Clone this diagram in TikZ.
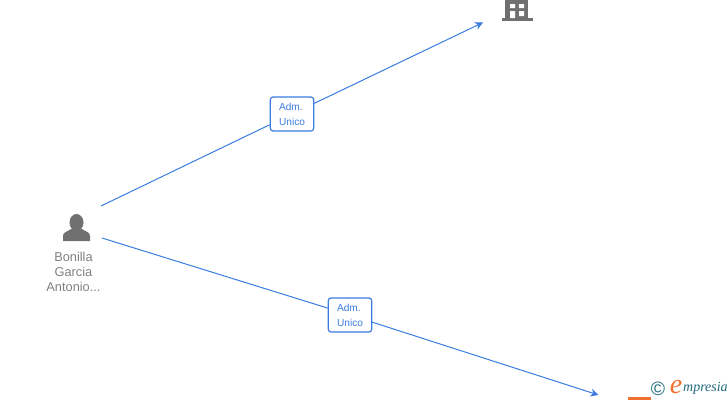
\documentclass[tikz,border=0pt]{standalone}
\usepackage{xcolor}
\usepackage{fontspec}
\setmainfont{Liberation Sans}
\newfontfamily\logofont{Liberation Serif}
\usetikzlibrary{arrows.meta, positioning, calc}
\definecolor{emblue}{RGB}{58,124,224}
\definecolor{emgrey}{RGB}{112,112,112}
\definecolor{emtext}{RGB}{128,128,128}
\definecolor{emorange}{RGB}{240,112,48}
\definecolor{emteal}{RGB}{30,105,125}

\begin{document}
\begin{tikzpicture}[x=0.75pt, y=-0.75pt,
  rel/.style={rectangle, rounded corners=2pt, draw=emblue, line width=0.9pt, fill=white, text=emblue, minimum width=32.5pt, minimum height=25.5pt, inner sep=0pt, align=left, text depth=-1.2pt, font=\fontsize{7.6}{11.2}\selectfont},
  holder/.style={text=emtext, align=center, inner sep=0pt, font=\fontsize{9.6}{11.2}\selectfont},
  conn/.style={draw=emblue, line width=0.75pt},
  arr/.style={conn, -{Stealth[length=6pt, width=6pt]}}
]
\useasboundingbox (0,0) rectangle (728,400);
% person icon
\fill[emgrey] (63,241) -- (63,236) .. controls (63,232) and (67,232) .. (71,229) -- (82,229) .. controls (86,232) and (90,232) .. (90,236) -- (90,241) -- cycle;
\fill[emgrey] (76.5,222.5) ellipse (7 and 8.5);
\node[holder] (person) at (73.5,271.5) {Bonilla\\Garcia\\Antonio...};
% building icon
\fill[emgrey] (505,-4) rectangle (528,19);
\fill[emgrey] (502,18) rectangle (533,21);
\fill[white] (510,4) rectangle (515,8) (519,4) rectangle (524,8);
\fill[white] (510,11) rectangle (515,18) (519,11) rectangle (524,16);
% orange box of the cut off node
\fill[emorange] (628,397) rectangle (651,400);
% relation labels
\node[rel] (adm1) at (292,114) {Adm.\\Unico};
\node[rel] (adm2) at (350,315) {Adm.\\Unico};
\coordinate (from1) at (101,206);
\coordinate (to1) at (483,22.5);
\coordinate (from2) at (102,238);
\coordinate (to2) at (598.5,395);
\draw[conn] (from1) -- (adm1);
\draw[arr] (adm1) -- (to1);
\draw[conn] (from2) -- (adm2);
\draw[arr] (adm2) -- (to2);
% logo
\node[text=emteal, inner sep=0pt, font=\fontsize{14.5}{15}\selectfont] (copy) at (658,388.5) {©};
\node[text=emorange, inner sep=0pt, font=\logofont\itshape\fontsize{21}{22}\selectfont] (logoe) at (676,387.5) {e};
\node[right=0.3pt of logoe, yshift=-1pt, text=emteal, inner sep=0pt, font=\logofont\itshape\fontsize{10.5}{12}\selectfont] (logo) {mpresia};
\end{tikzpicture}
\end{document}
